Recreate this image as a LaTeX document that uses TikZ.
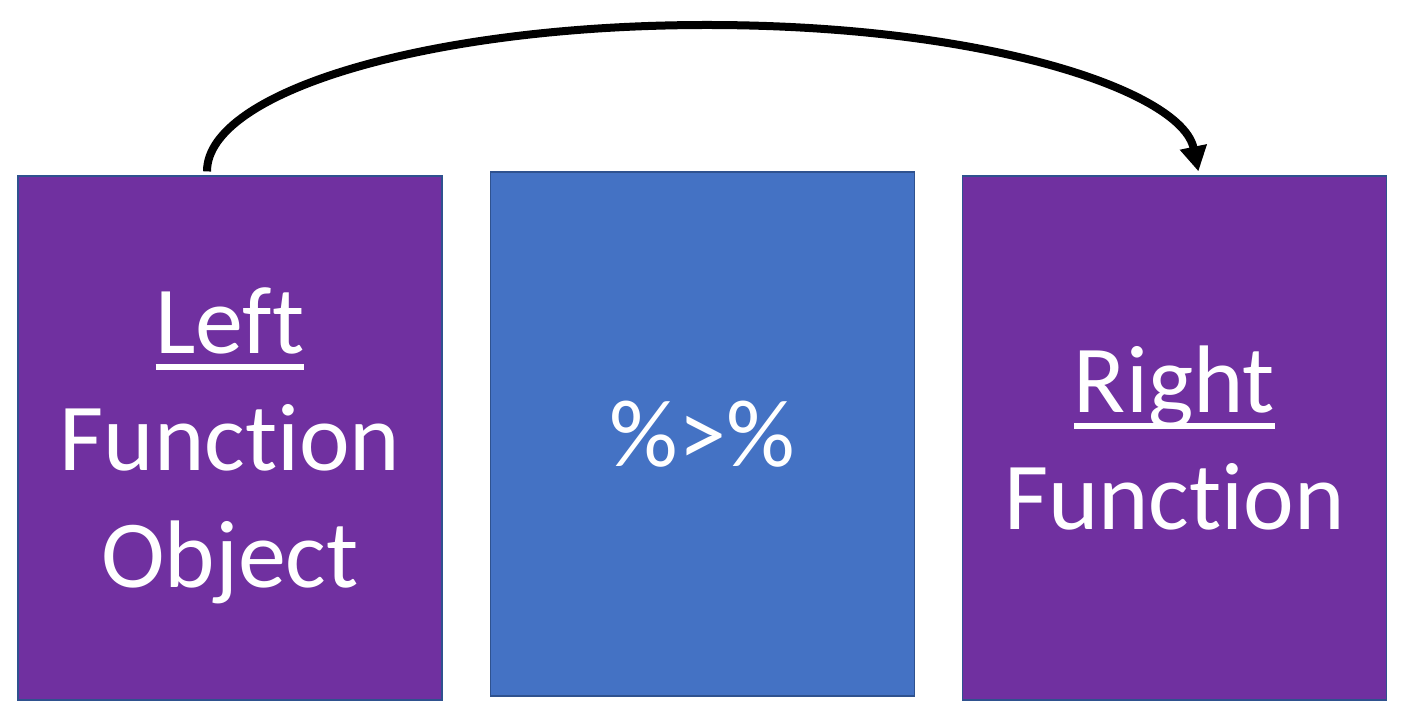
\documentclass[tikz,border=0pt]{standalone}
\usepackage{fontspec}
\setmainfont[Ligatures=NoCommon]{Carlito}
\usepackage{xcolor}
\usetikzlibrary{positioning,arrows.meta}

\definecolor{fnpurple}{HTML}{7030A0}
\definecolor{pipeblue}{HTML}{4472C4}
\definecolor{edgeblue}{HTML}{2F528F}

% underline in the style of the slide
\newcommand{\ulword}[1]{\setbox0\hbox{#1}\rlap{\rule[-0.172em]{\wd0}{0.0625em}}\box0}

\begin{document}
\begin{tikzpicture}[
    x=0.5pt, y=-0.5pt,
    fnbox/.style={rectangle, draw=edgeblue, line width=0.6pt, fill=fnpurple, text=white,
        minimum width=212pt, minimum height=262pt, align=center, text depth=0pt,
        font=\fontsize{48}{58.5}\selectfont},
    pipebox/.style={fnbox, fill=pipeblue},
    looparrow/.style={-{Triangle[length=12.5pt,width=13pt]}, line width=4pt, black}
]
\useasboundingbox (0,0) rectangle (1406,726);

\node[fnbox] (left) at (230,438) {\ulword{Left}\\Function\\Object};
\node[pipebox, right=23.5pt of left, yshift=2pt] (pipe) {\%>\%};
\node[fnbox, right=23.5pt of pipe, yshift=-2pt] (right) {\ulword{Right}\\Function};

\coordinate (arctop) at (707,25);
\draw[looparrow] ([xshift=-11.5pt,yshift=2pt]left.north) .. controls (207,91) and (431,25) .. (arctop)
    .. controls (990,25) and (1182,92) .. ([xshift=12pt,yshift=2pt]right.north);
\end{tikzpicture}
\end{document}
